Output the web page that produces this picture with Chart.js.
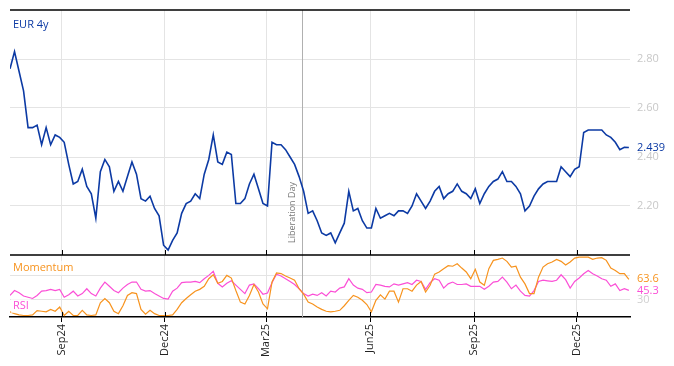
<!DOCTYPE html>
<html>
<head>
<meta charset="utf-8">
<script src="https://cdn.jsdelivr.net/npm/chart.js@4.4.1/dist/chart.umd.min.js"></script>
<style>
html, body { margin: 0; padding: 0; background: #fff; }
</style>
</head>
<body>
<canvas id="chart" width="674" height="366"></canvas>
<script>
// series sampled every 4 calendar days from startDate
const startDate = '2024-07-17';
const endDate = '2026-01-17';
const stepDays = 4;

const eur4y = [
	2.76, 2.83, 2.75, 2.67, 2.52, 2.52, 2.53, 2.45, 2.52, 2.45,
	2.49, 2.48, 2.46, 2.37, 2.29, 2.30, 2.35, 2.28, 2.25, 2.15,
	2.34, 2.39, 2.36, 2.26, 2.30, 2.26, 2.32, 2.38, 2.33, 2.23,
	2.22, 2.24, 2.19, 2.16, 2.04, 2.02, 2.06, 2.09, 2.17, 2.21,
	2.22, 2.25, 2.23, 2.33, 2.39, 2.49, 2.38, 2.37, 2.42, 2.41,
	2.21, 2.21, 2.23, 2.29, 2.33, 2.27, 2.21, 2.20, 2.46, 2.45,
	2.45, 2.43, 2.40, 2.37, 2.32, 2.26, 2.17, 2.18, 2.14, 2.09,
	2.08, 2.09, 2.05, 2.09, 2.13, 2.26, 2.18, 2.19, 2.14, 2.11,
	2.11, 2.19, 2.15, 2.16, 2.17, 2.16, 2.18, 2.18, 2.17, 2.20,
	2.25, 2.22, 2.19, 2.22, 2.26, 2.28, 2.23, 2.25, 2.26, 2.29,
	2.26, 2.25, 2.23, 2.27, 2.21, 2.25, 2.28, 2.30, 2.31, 2.34,
	2.30, 2.30, 2.28, 2.25, 2.18, 2.20, 2.24, 2.27, 2.29, 2.30,
	2.30, 2.30, 2.36, 2.34, 2.32, 2.35, 2.36, 2.50, 2.51, 2.51,
	2.51, 2.51, 2.49, 2.48, 2.46, 2.43, 2.44, 2.439
];

const rsi = [
	37, 45, 41.5, 36, 34, 32, 37, 44, 45, 47,
	45, 47, 34, 38, 44, 36, 40, 48, 40, 36,
	49, 59, 52, 45, 41.5, 49, 55, 59, 59, 47,
	44, 45, 40, 36, 32, 31, 44, 49, 58, 59,
	59, 60, 58, 64.5, 70, 76.6, 57, 51, 57, 61,
	54, 47, 40, 54, 56, 48, 39, 41, 58, 72,
	69, 64.5, 60, 55, 48, 40, 36, 39, 37, 41.5,
	36, 44, 42.6, 49, 51, 64.5, 54, 49, 47, 41.5,
	42.6, 55, 54, 52, 51, 56, 54, 56, 58, 55,
	62, 60, 47, 58, 64.5, 62, 49, 56, 59, 55,
	55, 56, 52, 52, 52, 47, 52, 59, 60, 67,
	59, 48, 54, 44, 37, 36, 45, 60, 62, 61,
	60, 62, 71, 63, 49, 60, 65.6, 72.7, 78, 72.7,
	69, 64.5, 62, 52, 56, 45, 48, 45.3
];

const momentum = [
	10, 7, 5, 4, 4, 5, 12, 11, 10, 14,
	11, 18, 4, 11, 4, 4, 12.5, 5, 4, 5,
	25, 32, 25, 11, 7, 20, 37, 41.5, 40, 14,
	6, 12.5, 7, 4, 4, 4, 5, 14, 25, 32,
	38, 44, 47, 52, 64.5, 71, 57, 60, 70, 65.6,
	45, 26, 23, 37, 55, 42.6, 23, 15, 59, 74,
	73, 69, 65.6, 62, 48, 39, 26, 23, 18, 14,
	11, 10, 11, 12.5, 20, 29, 37, 34, 29, 22,
	10, 29, 38, 31, 44, 44, 26, 48, 48, 44,
	54, 60, 42.6, 53.6, 72, 75.5, 81, 86, 85, 89,
	82, 75.5, 64.5, 80, 59, 53.6, 81, 94.7, 96.3, 98.5,
	93, 83.7, 85, 67, 56, 40, 40, 67, 83.7, 89,
	92, 96.3, 93, 87, 92, 98.5, 100, 100, 100, 96.3,
	98.5, 99, 94.7, 82, 78, 72.7, 73, 63.6
];

const tickDates = ['2024-09-01', '2024-12-01', '2025-03-01', '2025-06-01', '2025-09-01', '2025-12-01'];
const tickLabels = ['Sep24', 'Dec24', 'Mar25', 'Jun25', 'Sep25', 'Dec25'];
const mainTicks = [2.2, 2.4, 2.6, 2.8];
const oscTicks = [30, 70];
const eventDate = '2025-04-02';
const eventLabel = 'Liberation Day';

const BLUE = '#0c3aa4';
const ORANGE = '#f7931e';
const PINK = '#fb4fd6';
const FONT = '"Open Sans", sans-serif';

function dayOf(d) {
	return Math.round((Date.parse(d) - Date.parse(startDate)) / 86400000);
}
const tickDays = tickDates.map(dayOf);
const eventDay = dayOf(eventDate);
const lastDay = dayOf(endDate);

function toPoints(vals) {
	return vals.map((v, i) => ({x: i * stepDays, y: v}));
}

// right axes: fixed width, no label overhang padding
function fitRight(s) {
	s.width = 44;
	s.paddingTop = 0;
	s.paddingBottom = 0;
}

const overlay = {
	id: 'overlay',
	beforeDatasetsDraw(chart) {
		const {ctx, chartArea, scales} = chart;
		const ex = Math.round(scales.x.getPixelForValue(eventDay)) + 0.5;
		ctx.save();
		ctx.strokeStyle = '#b0b0b0';
		ctx.lineWidth = 1;
		ctx.beginPath();
		ctx.moveTo(ex, chartArea.top);
		ctx.lineTo(ex, chartArea.bottom);
		ctx.stroke();
		ctx.translate(ex - 8, scales.y.bottom - 12);
		ctx.rotate(-Math.PI / 2);
		ctx.fillStyle = '#777';
		ctx.font = '9px ' + FONT;
		ctx.textAlign = 'left';
		ctx.textBaseline = 'alphabetic';
		ctx.fillText(eventLabel, 0, 0);
		ctx.restore();
	},
	afterDraw(chart) {
		const {ctx, chartArea, scales} = chart;
		const y = scales.y, y2 = scales.y2, x = scales.x;
		ctx.save();
		// panel borders
		ctx.strokeStyle = '#000';
		ctx.lineWidth = 1.5;
		ctx.beginPath();
		ctx.moveTo(chartArea.left, y.top);
		ctx.lineTo(chartArea.right, y.top);
		ctx.moveTo(chartArea.left, y.bottom);
		ctx.lineTo(chartArea.right, y.bottom);
		ctx.stroke();
		// inner tick marks
		ctx.lineWidth = 1;
		ctx.beginPath();
		tickDays.forEach(d => {
			const px = Math.round(x.getPixelForValue(d)) + 0.5;
			ctx.moveTo(px, y.bottom);
			ctx.lineTo(px, y.bottom - 5);
			ctx.moveTo(px, y2.bottom);
			ctx.lineTo(px, y2.bottom - 5);
		});
		ctx.stroke();

		// panel titles
		ctx.font = '11px ' + FONT;
		ctx.textAlign = 'left';
		ctx.textBaseline = 'middle';
		function title(txt, col, px, py) {
			const w = ctx.measureText(txt).width;
			ctx.fillStyle = 'rgba(255,255,255,0.7)';
			ctx.fillRect(px - 2, py - 7, w + 4, 14);
			ctx.fillStyle = col;
			ctx.fillText(txt, px, py);
		}
		title('EUR 4y', BLUE, 13, 25);
		title('Momentum', ORANGE, 13, 268);
		title('RSI', PINK, 13, 306);

		// last values
		const lx = chartArea.right + 7;
		ctx.fillStyle = BLUE;
		ctx.fillText(eur4y[eur4y.length - 1].toFixed(3), lx, y.getPixelForValue(eur4y[eur4y.length - 1]));
		ctx.fillStyle = ORANGE;
		ctx.fillText(momentum[momentum.length - 1].toFixed(1), lx, y2.getPixelForValue(momentum[momentum.length - 1]));
		ctx.fillStyle = PINK;
		ctx.fillText(rsi[rsi.length - 1].toFixed(1), lx, y2.getPixelForValue(rsi[rsi.length - 1]));
		ctx.restore();
	}
};

new Chart(document.getElementById('chart'), {
	type: 'line',
	data: {
		datasets: [
			{data: toPoints(eur4y), yAxisID: 'y', borderColor: BLUE, borderWidth: 1.6},
			{data: toPoints(momentum), yAxisID: 'y2', borderColor: ORANGE, borderWidth: 1.2},
			{data: toPoints(rsi), yAxisID: 'y2', borderColor: PINK, borderWidth: 1.2}
		]
	},
	options: {
		responsive: false,
		animation: false,
		layout: {padding: {left: 10, top: 10, right: 0, bottom: 0}},
		plugins: {legend: {display: false}, tooltip: {enabled: false}},
		elements: {point: {radius: 0}, line: {tension: 0}},
		scales: {
			x: {
				type: 'linear',
				min: 0,
				max: lastDay,
				afterBuildTicks: s => { s.ticks = tickDays.map(v => ({value: v})); },
				afterFit: s => { s.height = 49; s.paddingLeft = 0; s.paddingRight = 0; },
				ticks: {
					autoSkip: false,
					minRotation: 90,
					maxRotation: 90,
					padding: 2,
					color: '#222',
					font: {family: FONT, size: 11},
					callback: v => tickLabels[tickDays.indexOf(v)]
				},
				grid: {color: '#e4e4e4', tickColor: '#000', tickLength: 5},
				border: {color: '#000', width: 1.5}
			},
			y: {
				position: 'right',
				stack: 'panels',
				stackWeight: 245,
				min: 2.0,
				max: 3.0,
				afterBuildTicks: s => { s.ticks = mainTicks.map(v => ({value: v})); },
				afterFit: fitRight,
				ticks: {color: '#c8c8c8', padding: 7, font: {family: FONT, size: 11}, callback: v => v.toFixed(2)},
				grid: {color: '#e4e4e4', drawTicks: false},
				border: {display: false}
			},
			y2: {
				position: 'right',
				stack: 'panels',
				stackWeight: 62,
				min: 1.5,
				max: 103.5,
				afterBuildTicks: s => { s.ticks = oscTicks.map(v => ({value: v})); },
				afterFit: fitRight,
				ticks: {color: '#d0d0d0', padding: 7, font: {family: FONT, size: 11}, callback: v => (v === 30 ? '30' : '')},
				grid: {color: '#e4e4e4', drawTicks: false},
				border: {display: false}
			}
		}
	},
	plugins: [overlay]
});
</script>
</body>
</html>
